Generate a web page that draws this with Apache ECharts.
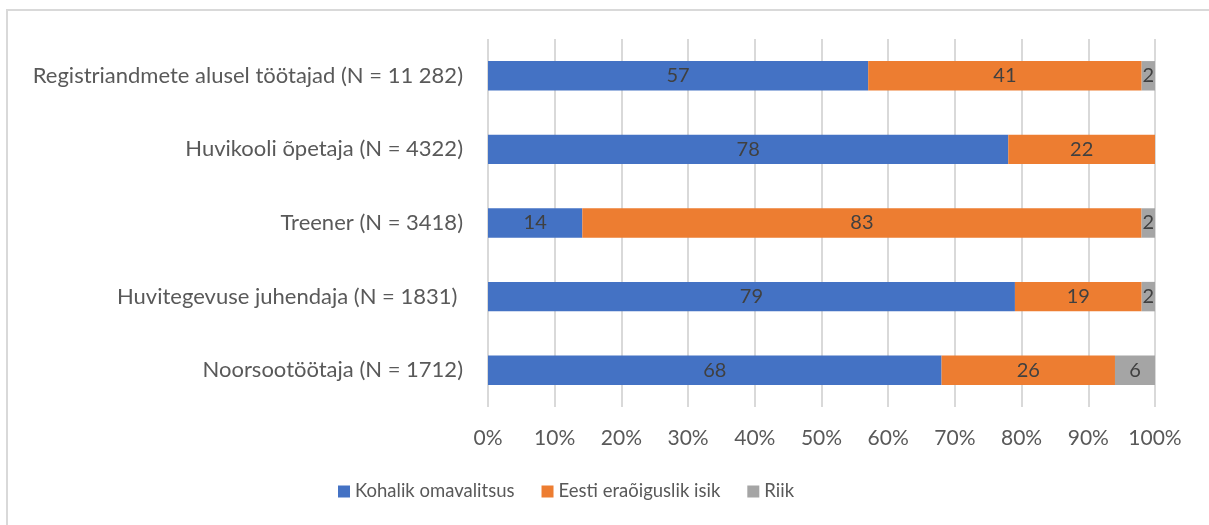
<!DOCTYPE html>
<html>
<head>
<meta charset="utf-8">
<script src="https://cdn.jsdelivr.net/npm/echarts@6/dist/echarts.min.js"></script>
<style>
html, body { margin: 0; padding: 0; background: #fff; }
#frame { position: absolute; left: 6px; top: 9px; width: 1203px; height: 516px; border-left: 2px solid #d9d9d9; border-top: 2px solid #d9d9d9; }
#chart { position: absolute; left: 0; top: 0; width: 1209px; height: 525px; }
</style>
</head>
<body>
<div id="frame"></div>
<div id="chart"></div>
<script>
// kategooriad alt üles (ECharts joonistab esimese alla)
var categories = [
    'Noorsootöötaja (N = 1712)',
    'Huvitegevuse juhendaja (N = 1831) ',
    'Treener (N = 3418)',
    'Huvikooli õpetaja (N = 4322)',
    'Registriandmete alusel töötajad (N = 11 282)'
];
var kohalik = [68, 79, 14, 78, 57];
var erao = [26, 19, 83, 22, 41];
var riik = [6, 2, 2, 0, 2];
var ticks = ['0%', '10%', '20%', '30%', '40%', '50%', '60%', '70%', '80%', '90%', '100%'];

var fontFam = 'Lato, "Open Sans", sans-serif';

// 100% virnastatud: iga rida normeeritakse summale
function share(arr) {
    return arr.map(function (v, i) {
        var total = kohalik[i] + erao[i] + riik[i];
        return { value: v / total * 100, raw: v };
    });
}

var chart = echarts.init(document.getElementById('chart'));

function mkSeries(name, arr, color) {
    return {
        name: name,
        type: 'bar',
        stack: 'total',
        barWidth: '40%',
        data: share(arr),
        itemStyle: { color: color },
        label: {
            show: true,
            position: 'inside',
            color: '#404040',
            fontSize: 20,
            fontFamily: fontFam,
            formatter: function (p) {
                return p.data.raw ? String(p.data.raw) : '';
            }
        }
    };
}

var option = {
    animation: false,
    textStyle: { fontFamily: fontFam },
    grid: {
        left: 488,
        right: 54,
        top: 39,
        bottom: 118
    },
    legend: {
        bottom: 19,
        left: 333,
        itemWidth: 12,
        itemHeight: 12,
        itemGap: 27,
        icon: 'rect',
        textStyle: { color: '#595959', fontSize: 18.5, fontFamily: fontFam },
        data: ['Kohalik omavalitsus', 'Eesti eraõiguslik isik', 'Riik']
    },
    xAxis: {
        type: 'value',
        min: 0,
        max: 100,
        interval: 10,
        axisLine: { show: false },
        axisTick: { show: false },
        splitLine: { lineStyle: { color: '#d9d9d9', width: 2 } },
        axisLabel: {
            color: '#595959',
            fontSize: 21,
            margin: 21,
            formatter: function (v) { return ticks[Math.round(v / 10)]; }
        }
    },
    yAxis: {
        type: 'category',
        data: categories,
        axisLine: { show: false },
        axisTick: { show: false },
        axisLabel: {
            color: '#595959',
            fontSize: 22,
            margin: 25
        }
    },
    series: [
        mkSeries('Kohalik omavalitsus', kohalik, '#4472C4'),
        mkSeries('Eesti eraõiguslik isik', erao, '#ED7D31'),
        mkSeries('Riik', riik, '#A5A5A5')
    ]
};

chart.setOption(option);
</script>
</body>
</html>
